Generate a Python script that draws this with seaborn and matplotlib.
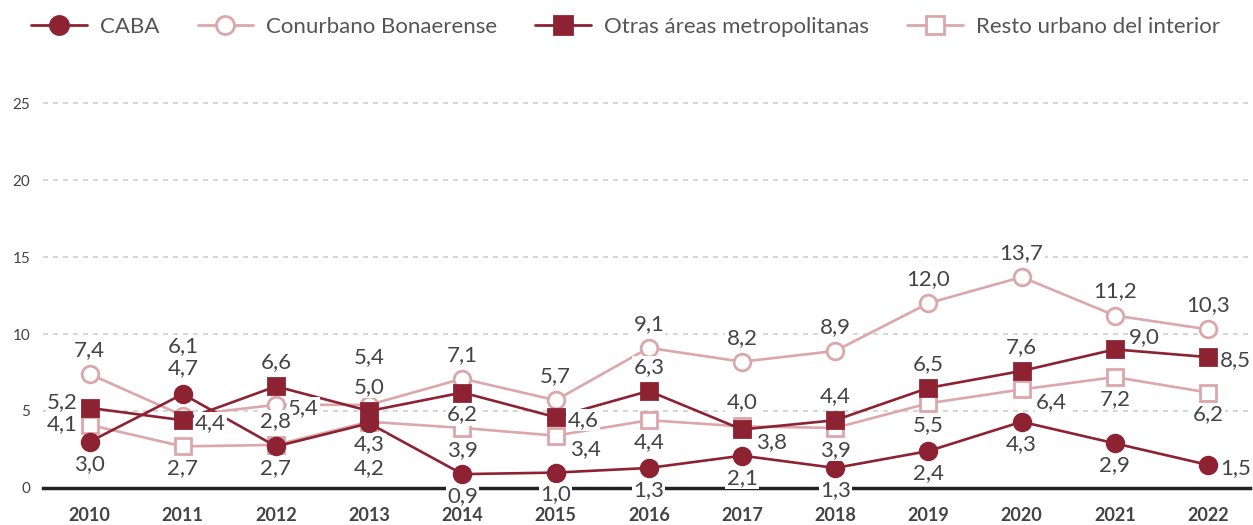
import pandas as pd
import seaborn as sns
import matplotlib.pyplot as plt
from matplotlib.lines import Line2D

# ── Datos ────────────────────────────────────────────────────────────────────
anios = [2010, 2011, 2012, 2013, 2014, 2015, 2016, 2017, 2018, 2019, 2020, 2021, 2022]
caba = [3.0, 6.1, 2.7, 4.2, 0.9, 1.0, 1.3, 2.1, 1.3, 2.4, 4.3, 2.9, 1.5]
conurbano = [7.4, 4.7, 5.4, 5.4, 7.1, 5.7, 9.1, 8.2, 8.9, 12.0, 13.7, 11.2, 10.3]
otras = [5.2, 4.4, 6.6, 5.0, 6.2, 4.6, 6.3, 3.8, 4.4, 6.5, 7.6, 9.0, 8.5]
resto = [4.1, 2.7, 2.8, 4.3, 3.9, 3.4, 4.4, 4.0, 3.9, 5.5, 6.4, 7.2, 6.2]
yticks = [0, 5, 10, 15, 20, 25]

series = {
    "CABA": caba,
    "Conurbano Bonaerense": conurbano,
    "Otras áreas metropolitanas": otras,
    "Resto urbano del interior": resto,
}

df = pd.DataFrame(
    [(s, a, v) for s, vals in series.items() for a, v in zip(anios, vals)],
    columns=["Region", "Anio", "Valor"],
)

# ── Estilo ───────────────────────────────────────────────────────────────────
OSCURO = "#8c2232"
CLARO = "#dba7ab"
TEXTO = "#444444"

estilos = {
    "CABA": dict(color=OSCURO, marker="o", mfc=OSCURO),
    "Conurbano Bonaerense": dict(color=CLARO, marker="o", mfc="white"),
    "Otras áreas metropolitanas": dict(color=OSCURO, marker="s", mfc=OSCURO),
    "Resto urbano del interior": dict(color=CLARO, marker="s", mfc="white"),
}

# posición de las etiquetas (dx, dy en píxeles, alineación)
pos = {
    "a": (0, 24, "center"),
    "aa": (0, 48, "center"),
    "b": (0, -22, "center"),
    "bb": (0, -45, "center"),
    "r": (12, -3, "left"),
    "l": (-12, 6, "right"),
    "l2": (-12, 1, "right"),
    "ra": (14, 12, "left"),
    "rb": (14, -13, "left"),
}
etiquetas = {
    "CABA": ["b", "aa", "b", "bb", "b", "b", "b", "b", "b", "b", "b", "b", "r"],
    "Conurbano Bonaerense": ["a", "aa", "r", "aa", "a", "a", "a", "a", "a", "a", "a", "a", "a"],
    "Otras áreas metropolitanas": ["l", "r", "a", "a", "b", "r", "a", "rb", "a", "a", "a", "ra", "r"],
    "Resto urbano del interior": ["l2", "b", "a", "b", "b", "rb", "b", "a", "b", "b", "rb", "b", "b"],
}

sns.set_theme(style="white")
plt.rcParams["font.family"] = ["Lato", "DejaVu Sans"]

fig = plt.figure(figsize=(12.53, 5.25), dpi=100)
ax = fig.add_axes([0.0343, 0.0705, 0.9633, 0.7626])

orden_z = {"Conurbano Bonaerense": 3, "Resto urbano del interior": 4,
           "CABA": 5, "Otras áreas metropolitanas": 6}

for region, est in estilos.items():
    sub = df[df["Region"] == region]
    sns.lineplot(
        data=sub, x="Anio", y="Valor", ax=ax,
        color=est["color"], marker=est["marker"], markersize=12,
        markerfacecolor=est["mfc"], markeredgecolor=est["color"],
        markeredgewidth=2, linewidth=1.9, zorder=orden_z[region],
        label=region, legend=False,
    )
    for a, v, code in zip(sub["Anio"], sub["Valor"], etiquetas[region]):
        dx, dy, ha = pos[code]
        ax.annotate(
            f"{v:.1f}".replace(".", ","), (a, v),
            xytext=(dx, dy), textcoords="offset pixels",
            ha=ha, va="center", fontsize=16, color=TEXTO,
            bbox=dict(boxstyle="square,pad=0.05", fc="white", ec="none"),
            zorder=10,
        )

ax.set_xlim(2009.5, 2022.45)
ax.set_ylim(0, 26)
ax.set_yticks(yticks)
ax.set_xticks(anios)
ax.set_xticklabels([str(a) for a in anios], fontweight="bold", fontsize=13, color=TEXTO)
ax.tick_params(axis="x", length=0, pad=14)
ax.tick_params(axis="y", length=0, pad=9, labelsize=11, labelcolor=TEXTO)
ax.set_xlabel("")
ax.set_ylabel("")

for y in yticks[1:]:
    ax.axhline(y, color="#cfcfcf", linewidth=1.2, linestyle=(0, (3, 3)), zorder=1)

for lado in ["top", "right", "left"]:
    ax.spines[lado].set_visible(False)
ax.spines["bottom"].set_color("#222222")
ax.spines["bottom"].set_linewidth(2.5)
ax.spines["bottom"].set_zorder(2)

handles = [
    Line2D([0], [0], color=est["color"], marker=est["marker"], markersize=13,
           markerfacecolor=est["mfc"], markeredgecolor=est["color"],
           markeredgewidth=2, linewidth=2)
    for est in estilos.values()
]
fig.legend(
    handles, list(estilos.keys()), loc="center left", bbox_to_anchor=(0.018, 0.949),
    ncol=4, frameon=False, prop=dict(size=16), labelcolor="#555555",
    handlelength=2.5, handletextpad=0.6, columnspacing=1.7, borderaxespad=0,
)

fig.savefig("out.png", dpi=100)
